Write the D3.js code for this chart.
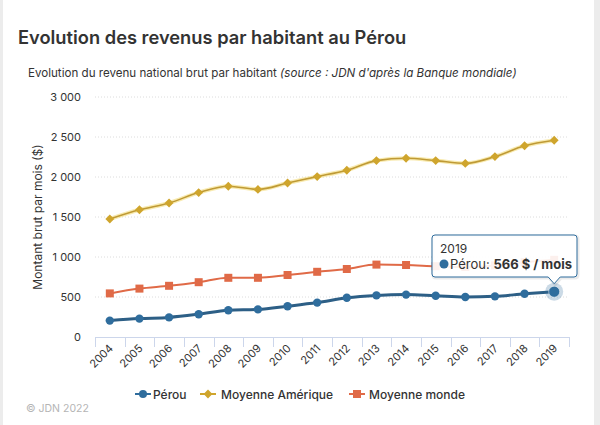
<!DOCTYPE html>
<html><head><meta charset="utf-8">
<script src="https://cdn.jsdelivr.net/npm/d3@7"></script>
<style>
html,body{margin:0;padding:0;background:#ececec;}
svg{display:block;font-family:Inter,"Open Sans",sans-serif;}
</style></head>
<body><svg id="c" width="600" height="425"></svg>
<script>
const years = ["2004","2005","2006","2007","2008","2009","2010","2011","2012","2013","2014","2015","2016","2017","2018","2019"];
const perou    = [205,230,245,285,335,345,385,430,490,520,530,515,500,508,540,566];
const amerique = [1475,1590,1675,1805,1885,1845,1925,2005,2085,2205,2235,2205,2170,2255,2390,2460];
const monde    = [545,605,640,685,740,740,775,815,850,905,900,885,875,895,935,965];
const yTicks = [0,500,1000,1500,2000,2500,3000];
const seriesNames = ["Pérou","Moyenne Amérique","Moyenne monde"];
const colors = ["#2f6d9d","#cfa52d","#e06a47"];

const svg = d3.select("#c");
svg.append("rect").attr("x",3).attr("y",0).attr("width",591).attr("height",425).attr("fill","#fff");

const x = d3.scaleBand().domain(years).range([95,569]);
const y = d3.scaleLinear().domain([0,3000]).range([337,97]);
const cx = d => x(d)+x.bandwidth()/2;

// titles
svg.append("text").attr("x",18).attr("y",44).attr("font-size",18.3).attr("font-weight",600).attr("fill","#333")
  .text("Evolution des revenus par habitant au Pérou");
const st = svg.append("text").attr("x",28).attr("y",77).attr("font-size",11.6).attr("fill","#333");
st.append("tspan").text("Evolution du revenu national brut par habitant ");
st.append("tspan").attr("font-style","italic").text("(source : JDN d'après la Banque mondiale)");

// grid
const fmt = v => v>=1000 ? d3.format(",")(v).replace(","," ") : String(v);
svg.append("g").selectAll("line").data(yTicks.filter(t=>t>0)).join("line")
  .attr("x1",95).attr("x2",569).attr("y1",d=>y(d)).attr("y2",d=>y(d))
  .attr("stroke","#dcdcdc").attr("stroke-dasharray","1,2");
svg.append("g").selectAll("text").data(yTicks).join("text")
  .attr("x",81).attr("y",d=>y(d)+4).attr("text-anchor","end").attr("font-size",11).attr("fill","#333")
  .text(fmt);
svg.append("text").attr("transform","translate(42,217) rotate(-90)").attr("text-anchor","middle")
  .attr("font-size",12).attr("fill","#333").text("Montant brut par mois ($)");

// x axis
svg.append("line").attr("x1",95).attr("x2",569).attr("y1",337.5).attr("y2",337.5).attr("stroke","#ccd6eb");
const bounds = years.map(d=>x(d)).concat([569]);
svg.append("g").selectAll("line").data(bounds).join("line")
  .attr("x1",d=>Math.round(d)+0.5).attr("x2",d=>Math.round(d)+0.5).attr("y1",337).attr("y2",347).attr("stroke","#ccd6eb");
svg.append("g").selectAll("text").data(years).join("text")
  .attr("transform",d=>`translate(${cx(d)+4},${349}) rotate(-45)`).attr("text-anchor","end")
  .attr("font-size",11).attr("fill","#333").text(d=>d);

const line = d3.line().x((d,i)=>cx(years[i])).y(d=>y(d)).curve(d3.curveMonotoneX);

// monde
svg.append("path").attr("d",line(monde)).attr("fill","none").attr("stroke",colors[2]).attr("stroke-width",2);
svg.append("g").selectAll("rect").data(monde).join("rect")
  .attr("x",(d,i)=>cx(years[i])-4).attr("y",d=>y(d)-4).attr("width",8).attr("height",8).attr("fill",colors[2]);
// amerique
svg.append("path").attr("d",line(amerique)).attr("fill","none").attr("stroke","#f3dc7a").attr("stroke-width",4).attr("stroke-opacity",0.6);
svg.append("path").attr("d",line(amerique)).attr("fill","none").attr("stroke","#bf9a35").attr("stroke-width",1.6);
const diamond = d3.symbol().type(d3.symbolDiamond2).size(50);
svg.append("g").selectAll("path").data(amerique).join("path")
  .attr("transform",(d,i)=>`translate(${cx(years[i])},${y(d)})`).attr("d",diamond).attr("fill",colors[1]);
// perou
svg.append("path").attr("d",line(perou)).attr("fill","none").attr("stroke","#2d5f86").attr("stroke-width",3);
svg.append("g").selectAll("circle").data(perou).join("circle")
  .attr("cx",(d,i)=>cx(years[i])).attr("cy",d=>y(d)).attr("r",4.2).attr("fill",colors[0]);
// hover
const last = perou.length-1;
svg.append("circle").attr("cx",cx(years[last])).attr("cy",y(perou[last])).attr("r",9).attr("fill",colors[0]).attr("opacity",0.25);
svg.append("circle").attr("cx",cx(years[last])).attr("cy",y(perou[last])).attr("r",5.5).attr("fill",colors[0]).attr("stroke","#fff").attr("stroke-width",0.5);

// tooltip
const tx = cx(years[last]), ty = y(perou[last]);
const bx=432, by=235, bw=145, bh=42;
const tip = `M${bx+3},${by} H${bx+bw-3} Q${bx+bw},${by} ${bx+bw},${by+3} V${by+bh-3} Q${bx+bw},${by+bh} ${bx+bw-3},${by+bh} H${tx+6} L${tx},${ty-8} L${tx-6},${by+bh} H${bx+3} Q${bx},${by+bh} ${bx},${by+bh-3} V${by+3} Q${bx},${by} ${bx+3},${by} Z`;
svg.append("path").attr("d",tip).attr("transform","translate(1,1)").attr("fill","none").attr("stroke","#000").attr("stroke-opacity",0.08).attr("stroke-width",3);
svg.append("path").attr("d",tip).attr("fill","rgba(255,255,255,0.9)").attr("stroke",colors[0]).attr("stroke-width",1);
svg.append("text").attr("x",440).attr("y",253).attr("font-size",12).attr("fill","#333").text(years[last]);
svg.append("circle").attr("cx",444).attr("cy",264).attr("r",4.5).attr("fill",colors[0]);
const t2 = svg.append("text").attr("x",450).attr("y",268.5).attr("font-size",13).attr("fill","#333");
t2.append("tspan").text("Pérou: ");
t2.append("tspan").attr("font-weight",700).text(perou[last]+" $ / mois");

// legend
const leg = [{cx:143,tx:153},{cx:208,tx:221},{cx:357,tx:369}];
leg.forEach((l,i)=>{
  svg.append("line").attr("x1",l.cx-8).attr("x2",l.cx+8).attr("y1",394).attr("y2",394).attr("stroke",colors[i]).attr("stroke-width",2);
  if(i===0) svg.append("circle").attr("cx",l.cx).attr("cy",394).attr("r",4).attr("fill",colors[i]);
  if(i===1) svg.append("path").attr("transform",`translate(${l.cx},394)`).attr("d",diamond).attr("fill",colors[i]);
  if(i===2) svg.append("rect").attr("x",l.cx-4).attr("y",390).attr("width",8).attr("height",8).attr("fill",colors[i]);
  svg.append("text").attr("x",l.tx).attr("y",398.5).attr("font-size",12).attr("font-weight",500).attr("fill","#333").text(seriesNames[i]);
});
svg.append("text").attr("x",26).attr("y",412).attr("font-size",10.5).attr("fill","#b5b5b5").text("© JDN 2022");
</script></body></html>
